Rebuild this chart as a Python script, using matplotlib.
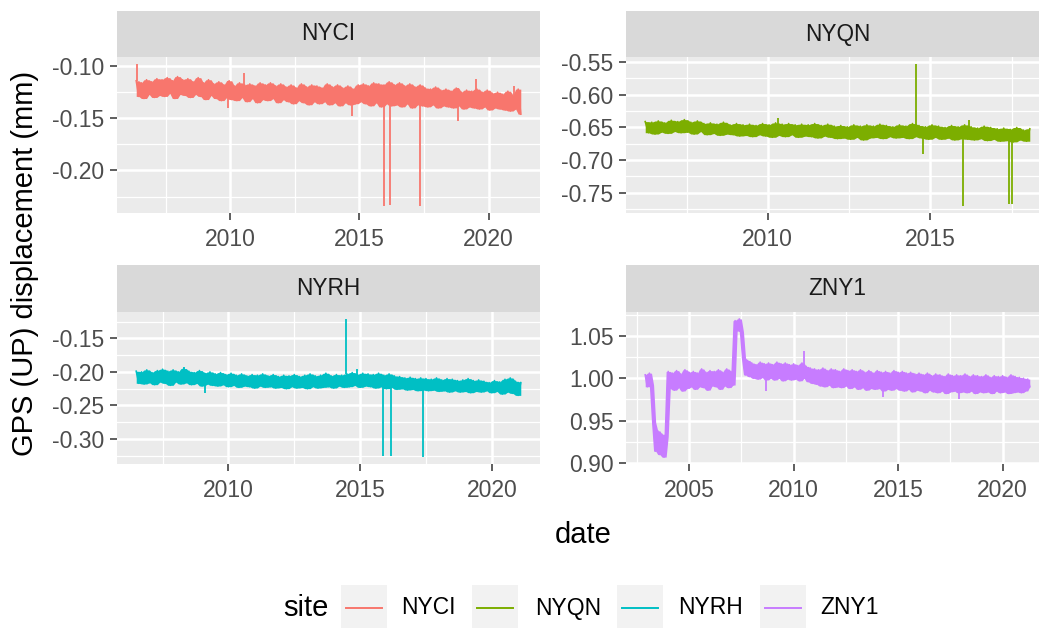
import numpy as np
import matplotlib
matplotlib.use("Agg")
import matplotlib.pyplot as plt
from matplotlib.ticker import MultipleLocator, AutoMinorLocator, FormatStrFormatter, FuncFormatter
from matplotlib.lines import Line2D
from matplotlib.patches import Rectangle

plt.rcParams['font.family'] = ['Liberation Sans', 'DejaVu Sans']
plt.rcParams['axes.unicode_minus'] = False

# ---------------------------------------------------------------- data
sites = ["NYCI", "NYQN", "NYRH", "ZNY1"]
site_colors = ["#F8766D", "#7CAE00", "#00BFC4", "#C77CFF"]

# NYCI: decimal-year span of the regular record and its values (mm)
nyci_start, nyci_end = 2006.35, 2021.25
nyci_values = [
    -0.114, -0.129, -0.116, -0.131, -0.113, -0.127, -0.115, -0.130, -0.112, -0.128,
    -0.113, -0.129, -0.111, -0.126, -0.114, -0.131, -0.110, -0.127, -0.113, -0.128,
    -0.112, -0.130, -0.115, -0.127, -0.111, -0.129, -0.116, -0.132, -0.113, -0.128,
    -0.117, -0.131, -0.115, -0.133, -0.118, -0.130, -0.114, -0.132, -0.119, -0.133,
    -0.116, -0.130, -0.118, -0.134, -0.117, -0.131, -0.119, -0.135, -0.116, -0.132,
    -0.118, -0.133, -0.116, -0.131, -0.119, -0.135, -0.117, -0.132, -0.120, -0.134,
    -0.118, -0.136, -0.121, -0.133, -0.117, -0.135, -0.120, -0.137, -0.118, -0.134,
    -0.119, -0.136, -0.121, -0.134, -0.117, -0.137, -0.120, -0.135, -0.118, -0.138,
    -0.121, -0.135, -0.119, -0.137, -0.122, -0.136, -0.118, -0.134, -0.117, -0.136,
    -0.119, -0.138, -0.116, -0.135, -0.117, -0.139, -0.118, -0.136, -0.115, -0.138,
    -0.118, -0.137, -0.116, -0.139, -0.119, -0.136, -0.117, -0.140, -0.120, -0.137,
    -0.118, -0.138, -0.121, -0.139, -0.122, -0.137, -0.120, -0.140, -0.123, -0.138,
    -0.122, -0.139, -0.124, -0.140, -0.121, -0.138, -0.125, -0.141, -0.123, -0.139,
    -0.124, -0.140, -0.122, -0.141, -0.125, -0.139, -0.123, -0.142, -0.126, -0.140,
    -0.125, -0.141, -0.127, -0.142, -0.124, -0.143, -0.128, -0.141, -0.122, -0.146,
]
nyci_spike_dates = [2006.37, 2009.90, 2010.54, 2014.70, 2015.95, 2016.20, 2017.34, 2018.80, 2019.50, 2021.00]
nyci_spike_values = [-0.098, -0.140, -0.107, -0.148, -0.234, -0.233, -0.234, -0.153, -0.112, -0.119]

# NYQN
nyqn_start, nyqn_end = 2006.23, 2018.06
nyqn_values = [
    -0.641, -0.658, -0.642, -0.660, -0.640, -0.657, -0.643, -0.659, -0.639, -0.656,
    -0.641, -0.658, -0.638, -0.657, -0.642, -0.660, -0.640, -0.656, -0.644, -0.661,
    -0.643, -0.659, -0.645, -0.662, -0.642, -0.660, -0.646, -0.661, -0.644, -0.663,
    -0.646, -0.662, -0.645, -0.664, -0.647, -0.661, -0.644, -0.663, -0.646, -0.665,
    -0.643, -0.662, -0.645, -0.664, -0.644, -0.661, -0.646, -0.665, -0.645, -0.663,
    -0.646, -0.664, -0.644, -0.666, -0.647, -0.663, -0.645, -0.665, -0.648, -0.667,
    -0.647, -0.666, -0.649, -0.668, -0.646, -0.665, -0.648, -0.669, -0.646, -0.666,
    -0.648, -0.665, -0.645, -0.667, -0.647, -0.664, -0.649, -0.666, -0.646, -0.665,
    -0.648, -0.667, -0.644, -0.664, -0.647, -0.666, -0.649, -0.668, -0.646, -0.665,
    -0.648, -0.668, -0.650, -0.666, -0.647, -0.669, -0.649, -0.667, -0.646, -0.668,
    -0.649, -0.669, -0.651, -0.667, -0.648, -0.670, -0.650, -0.668, -0.652, -0.671,
    -0.651, -0.670, -0.653, -0.672, -0.650, -0.669, -0.654, -0.671, -0.652,
]
nyqn_spike_dates = [2010.30, 2014.55, 2014.77, 2016.00, 2016.20, 2017.42, 2017.52]
nyqn_spike_values = [-0.636, -0.553, -0.690, -0.770, -0.638, -0.767, -0.767]

# NYRH
nyrh_start, nyrh_end = 2006.50, 2021.10
nyrh_values = [
    -0.199, -0.217, -0.200, -0.218, -0.197, -0.216, -0.201, -0.219, -0.198, -0.215,
    -0.196, -0.217, -0.199, -0.220, -0.197, -0.215, -0.200, -0.218, -0.195, -0.216,
    -0.199, -0.219, -0.201, -0.217, -0.198, -0.221, -0.202, -0.218, -0.200, -0.220,
    -0.203, -0.221, -0.201, -0.219, -0.204, -0.222, -0.202, -0.220, -0.205, -0.223,
    -0.203, -0.221, -0.206, -0.222, -0.204, -0.224, -0.205, -0.221, -0.203, -0.223,
    -0.206, -0.222, -0.204, -0.224, -0.207, -0.223, -0.205, -0.225, -0.206, -0.222,
    -0.204, -0.224, -0.207, -0.223, -0.205, -0.225, -0.203, -0.222, -0.206, -0.224,
    -0.205, -0.223, -0.202, -0.222, -0.206, -0.224, -0.204, -0.221, -0.205, -0.223,
    -0.203, -0.222, -0.201, -0.220, -0.204, -0.223, -0.202, -0.221, -0.203, -0.222,
    -0.204, -0.224, -0.202, -0.222, -0.205, -0.225, -0.203, -0.223, -0.206, -0.226,
    -0.207, -0.225, -0.209, -0.227, -0.208, -0.226, -0.210, -0.228, -0.209, -0.227,
    -0.210, -0.228, -0.211, -0.227, -0.209, -0.229, -0.212, -0.228, -0.210, -0.230,
    -0.211, -0.228, -0.213, -0.230, -0.212, -0.229, -0.210, -0.231, -0.213, -0.229,
    -0.212, -0.230, -0.214, -0.228, -0.216, -0.231, -0.213, -0.229, -0.215, -0.233,
    -0.211, -0.230, -0.209, -0.232, -0.214, -0.235, -0.216,
]
nyrh_spike_dates = [2008.30, 2009.10, 2014.47, 2014.90, 2015.88, 2016.18, 2017.37]
nyrh_spike_values = [-0.193, -0.232, -0.121, -0.196, -0.326, -0.325, -0.327]

# ZNY1
zny1_start, zny1_end = 2002.90, 2021.30
zny1_values = [
    1.004, 0.990, 1.006, 0.992, 0.948, 0.914, 0.938, 0.910, 0.934, 0.907,
    0.931, 1.008, 0.988,
    1.006, 0.986, 1.009, 0.989, 1.005, 0.985, 1.010, 0.988, 1.007, 0.990,
    1.008, 0.987, 1.006, 0.990, 1.011, 0.989, 1.007, 0.986, 1.009, 0.991,
    1.008, 0.990, 1.010, 0.987, 1.007, 0.991, 1.011, 0.989, 1.008, 0.992,
    1.068, 1.056, 1.070, 1.055,
    1.024, 1.004, 1.021, 1.002,
    1.018, 1.000, 1.016, 0.999, 1.019, 1.001, 1.017, 0.998, 1.018, 1.000,
    1.016, 0.998, 1.019, 1.000, 1.017, 0.997, 1.018, 0.999, 1.016, 0.998,
    1.017, 0.999, 1.015, 0.997, 1.018, 1.000, 1.014, 0.996, 1.012, 0.994,
    1.011, 0.993, 1.010, 0.991, 1.012, 0.990, 1.009, 0.992, 1.011, 0.989,
    1.010, 0.990, 1.008, 0.989, 1.011, 0.991, 1.009, 0.988, 1.010, 0.990,
    1.008, 0.987, 1.010, 0.989, 1.007, 0.986, 1.009, 0.988, 1.006, 0.987,
    1.009, 0.988, 1.007, 0.985, 1.008, 0.987, 1.006, 0.986, 1.009, 0.988,
    1.007, 0.986, 1.008, 0.985, 1.006, 0.987, 1.007, 0.984, 1.005, 0.986,
    1.006, 0.985, 1.004, 0.983, 1.006, 0.986, 1.003, 0.984, 1.005, 0.983,
    1.004, 0.985, 1.002, 0.982, 1.005, 0.984, 1.003, 0.985, 1.004, 0.983,
    1.003, 0.984, 1.005, 0.983, 1.002, 0.985, 1.004, 0.982, 1.003, 0.984,
    1.002, 0.983, 1.004, 0.984, 1.001, 0.982, 1.003, 0.985, 1.002, 0.983,
    1.003, 0.984, 1.001, 0.982, 1.004, 0.983, 1.002, 0.984, 1.001, 0.983,
    1.000, 0.985, 0.999, 0.990,
]
zny1_spike_dates = [2008.70, 2010.50, 2014.30, 2017.90]
zny1_spike_values = [0.985, 1.032, 0.978, 0.976]

series = {
    "NYCI": (nyci_start, nyci_end, nyci_values, nyci_spike_dates, nyci_spike_values),
    "NYQN": (nyqn_start, nyqn_end, nyqn_values, nyqn_spike_dates, nyqn_spike_values),
    "NYRH": (nyrh_start, nyrh_end, nyrh_values, nyrh_spike_dates, nyrh_spike_values),
    "ZNY1": (zny1_start, zny1_end, zny1_values, zny1_spike_dates, zny1_spike_values),
}


def site_record(start, end, values):
    """Regular record with its local min/max envelope."""
    dates = np.linspace(start, end, len(values))
    v = np.asarray(values, dtype=float)
    padded = np.concatenate([[v[0]], v, [v[-1]]])
    trio = np.vstack([padded[:-2], padded[1:-1], padded[2:]])
    return dates, v, trio.min(axis=0), trio.max(axis=0)


# ---------------------------------------------------------------- layout
W, H = 1039, 628
fig = plt.figure(figsize=(W / 100, H / 100), dpi=100)
fig.patch.set_facecolor("white")


def fig_box(left, top, right, bottom):
    return [left / W, 1 - bottom / H, (right - left) / W, (bottom - top) / H]


# left, right, strip top, panel top, panel bottom (pixels)
panel_px = {
    "NYCI": (117, 540, 11, 57, 213),
    "NYQN": (626, 1049, 11, 57, 213),
    "NYRH": (117, 540, 265, 312, 464),
    "ZNY1": (626, 1049, 265, 312, 464),
}

PANEL_BG = "#EBEBEB"
STRIP_BG = "#D9D9D9"
TICK_TXT = "#4D4D4D"
TICK_LINE = "#333333"

for site, color in zip(sites, site_colors):
    left, right, stop, ptop, pbot = panel_px[site]
    ax = fig.add_axes(fig_box(left, ptop, right, pbot))
    ax.set_facecolor(PANEL_BG)
    for sp in ax.spines.values():
        sp.set_visible(False)

    start, end, values, spike_dates, spike_values = series[site]
    dates, v, lower, upper = site_record(start, end, values)
    ax.fill_between(dates, lower, upper, color=color, lw=0)
    ax.plot(dates, v, color=color, lw=1.2, solid_joinstyle="round")
    # single-epoch outliers: a thin stroke from the nearest regular epoch
    nearest = [v[np.argmin(np.abs(dates - d))] for d in spike_dates]
    ax.vlines(spike_dates, nearest, spike_values, color=color, lw=1.3)
    ax.margins(x=0.05, y=0.05)

    ax.xaxis.set_major_locator(MultipleLocator(5))
    ax.xaxis.set_minor_locator(AutoMinorLocator(2))
    ax.yaxis.set_major_locator(MultipleLocator(0.05))
    ax.yaxis.set_minor_locator(AutoMinorLocator(2))
    ax.xaxis.set_major_formatter(FuncFormatter(lambda val, p: f"{val:.0f}"))
    ax.yaxis.set_major_formatter(FormatStrFormatter("%.2f"))

    ax.set_axisbelow(True)
    ax.grid(which="major", color="white", lw=1.8)
    ax.grid(which="minor", color="white", lw=0.9)
    ax.tick_params(which="major", length=5, width=1.1, color=TICK_LINE,
                   labelcolor=TICK_TXT, labelsize=16.5, pad=4)
    ax.tick_params(axis="x", which="major", pad=6)
    ax.tick_params(which="minor", length=0)

    sax = fig.add_axes(fig_box(left, stop, right, ptop))
    sax.set_facecolor(STRIP_BG)
    sax.set_xticks([])
    sax.set_yticks([])
    for sp in sax.spines.values():
        sp.set_visible(False)
    sax.text(0.5, 0.5, site, transform=sax.transAxes, ha="center", va="center",
             fontsize=16.3, color="#1A1A1A")

# axis titles
fig.text(25 / W, 1 - 263 / H, "GPS (UP) displacement (mm)", rotation=90,
         ha="center", va="center", fontsize=21, color="black")
fig.text(583 / W, 1 - 535 / H, "date", ha="center", va="center",
         fontsize=21, color="black")

# legend
leg_y = 1 - 608 / H
fig.text(283 / W, leg_y, "site", ha="left", va="center", fontsize=21, color="black")
key_left = [341, 472, 617, 760]
label_left = [401, 535, 678, 820]
key_px = 46
for site, color, kl, tl in zip(sites, site_colors, key_left, label_left):
    fig.patches.append(Rectangle((kl / W, leg_y - key_px / 2 / H), key_px / W, key_px / H,
                                 transform=fig.transFigure, facecolor="#F2F2F2",
                                 edgecolor="none"))
    fig.lines.append(Line2D([(kl + 5) / W, (kl + key_px - 5) / W], [leg_y, leg_y],
                            transform=fig.transFigure, color=color, lw=1.4))
    fig.text(tl / W, leg_y, site, ha="left", va="center", fontsize=16.5, color="black")

fig.savefig("out.png", dpi=100)
